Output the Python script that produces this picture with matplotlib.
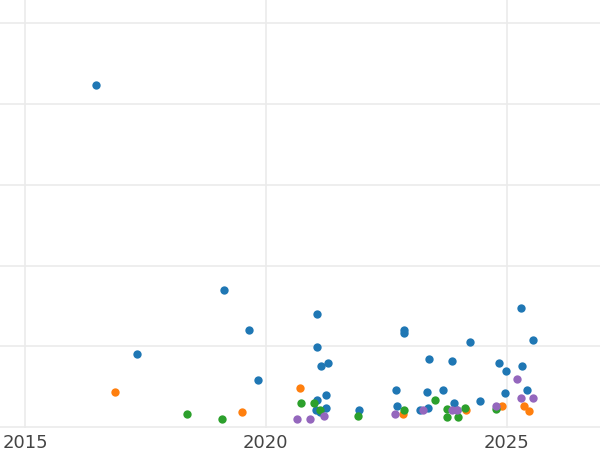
import matplotlib
matplotlib.use("Agg")
import matplotlib.pyplot as plt

blue_x = [2016.48,2019.14,2017.33,2019.66,2019.84,2021.07,2021.07,2021.15,2021.30,2021.24,2021.07,2021.05,2021.13,2021.24,2021.94,2022.71,2022.88,2022.86,2023.38,2023.86,2023.34,2023.67,2022.73,2023.21,2023.36,2023.90,2023.96,2024.25,2024.44,2024.85,2024.98,2024.96,2025.29,2025.33,2025.54,2025.42,2024.81]
blue_y = [4.24,1.70,0.90,1.20,0.58,1.40,0.99,0.76,0.79,0.40,0.33,0.21,0.19,0.24,0.21,0.46,1.16,1.20,0.84,0.82,0.43,0.46,0.26,0.21,0.24,0.30,0.21,1.05,0.32,0.79,0.69,0.42,1.47,0.76,1.08,0.46,0.25]
orange_x = [2016.87,2019.51,2020.70,2022.84,2024.15,2024.90,2025.37,2025.46]
orange_y = [0.43,0.19,0.48,0.16,0.21,0.26,0.26,0.20]
green_x = [2018.37,2019.10,2020.74,2021.01,2021.13,2021.92,2022.86,2023.52,2023.77,2023.77,2024.00,2024.13,2024.79]
green_y = [0.16,0.10,0.30,0.30,0.21,0.14,0.21,0.33,0.22,0.12,0.12,0.24,0.22]
purple_x = [2020.65,2020.92,2021.20,2022.69,2023.27,2023.86,2023.98,2025.21,2025.29,2025.54,2024.77]
purple_y = [0.10,0.10,0.14,0.16,0.21,0.21,0.21,0.59,0.36,0.36,0.26]

fig = plt.figure(figsize=(6, 4.5), dpi=100)
ax = fig.add_axes([0, 0.049, 1, 0.951])
for xs, ys, c in [(blue_x, blue_y, "#1f77b4"), (orange_x, orange_y, "#ff7f0e"),
                  (green_x, green_y, "#2ca02c"), (purple_x, purple_y, "#9467bd")]:
    ax.scatter(xs, ys, s=36, color=c, linewidths=0, zorder=3)
ax.set_xlim(2014.48, 2026.94)
ax.set_ylim(-0.012, 5.29)
ax.set_xticks([2015, 2020, 2025])
ax.set_yticks([0, 1, 2, 3, 4, 5])
ax.set_yticklabels([])
ax.tick_params(length=0, labelsize=13, labelcolor="#444444", pad=4)
ax.tick_params(axis="y", left=False)
ax.grid(True, color="#ebebeb", linewidth=1.2, zorder=0)
for s in ax.spines.values():
    s.set_visible(False)
fig.savefig("out.png", dpi=100)
